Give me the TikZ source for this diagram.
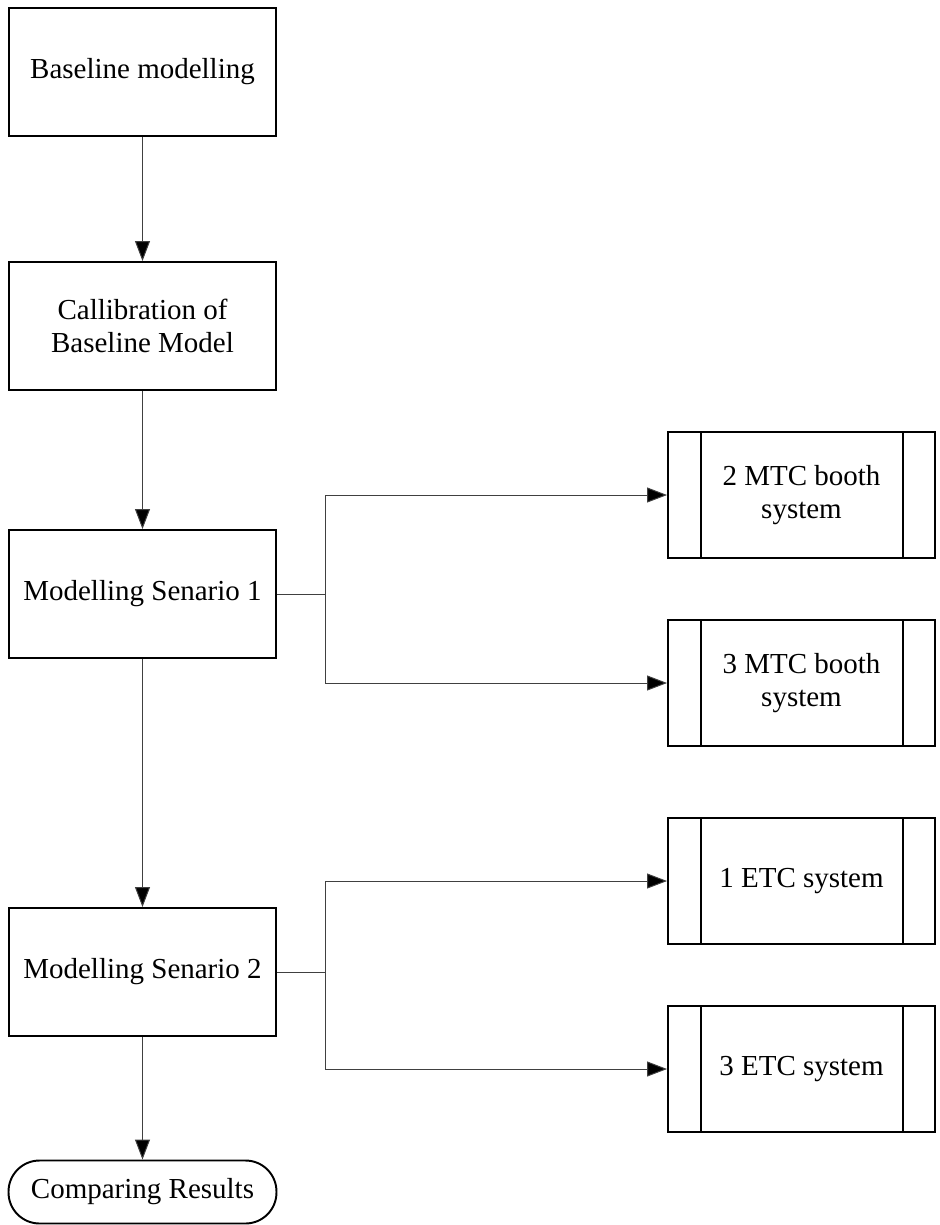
\documentclass[tikz,border=0pt]{standalone}
\usepackage{fontspec}
\setmainfont{Liberation Serif}
\usetikzlibrary{arrows.meta}

\tikzset{
  stepbox/.style={draw,line width=1.1pt,minimum width=5.34cm,minimum height=2.56cm,
    inner sep=0pt,align=center,font=\fontsize{16.5}{19}\selectfont},
  subbox/.style={stepbox,minimum height=2.52cm},
  endbox/.style={stepbox,minimum width=5.36cm,minimum height=1.26cm,rounded corners=0.62cm},
  conn/.style={draw=black!75,line width=0.55pt},
  arr/.style={conn,-{Triangle[length=0.4cm,width=0.3cm,fill=black]}}
}

\begin{document}
\begin{tikzpicture}[x=0.02cm,y=-0.02cm]
\useasboundingbox (0,0) rectangle (940,1225);

% main column
\node[stepbox] (base) at (142.5,72) {Baseline modelling};
\node[stepbox] (calib) at (142.5,326) {Callibration of\\Baseline Model};
\node[stepbox] (sen1) at (142.5,594) {Modelling Senario 1};
\node[stepbox] (sen2) at (142.5,972) {Modelling Senario 2};
\node[endbox] (res) at (142.5,1192) {Comparing Results};

% sub processes
\node[subbox] (mtc2) at (801.5,495) {2 MTC booth\\system};
\node[subbox] (mtc3) at (801.5,683) {3 MTC booth\\system};
\node[subbox] (etc1) at (801.5,881) {1 ETC system};
\node[subbox] (etc3) at (801.5,1069) {3 ETC system};
\foreach \n in {mtc2,mtc3,etc1,etc3}{
  \draw[line width=1.1pt] ([xshift=0.68cm]\n.north west) -- ([xshift=0.68cm]\n.south west);
  \draw[line width=1.1pt] ([xshift=-0.66cm]\n.north east) -- ([xshift=-0.66cm]\n.south east);
}

\coordinate (br1) at (325,594);
\coordinate (br2) at (325,972);

% connectors
\draw[arr] (base) -- (calib);
\draw[arr] (calib) -- (sen1);
\draw[arr] (sen1) -- (sen2);
\draw[arr] (sen2) -- (res);
\draw[conn] (sen1.east) -- (br1);
\draw[arr] (br1) |- (mtc2.west);
\draw[arr] (br1) |- (mtc3.west);
\draw[conn] (sen2.east) -- (br2);
\draw[arr] (br2) |- (etc1.west);
\draw[arr] (br2) |- (etc3.west);
\end{tikzpicture}
\end{document}
